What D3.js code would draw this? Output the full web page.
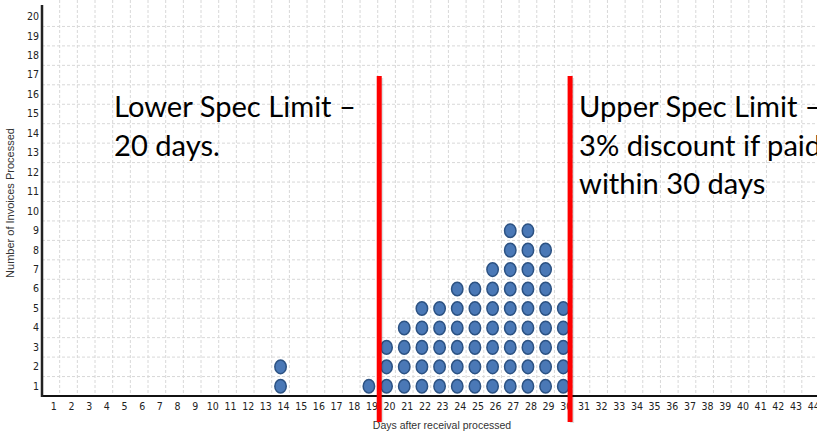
<!DOCTYPE html>
<html><head><meta charset="utf-8">
<script src="https://cdn.jsdelivr.net/npm/d3@7"></script>
<style>html,body{margin:0;padding:0;background:#fff;overflow:hidden}svg{display:block}</style>
</head><body>
<svg id="c" width="817" height="432"></svg>
<script>
// ---- data ----
const xDays = d3.range(1, 45);            // x-axis categories 1..44
const yCounts = d3.range(1, 21);          // y-axis categories 1..20
const dotDays = [14, 19, 20, 21, 22, 23, 24, 25, 26, 27, 28, 29, 30];
const dotCounts = [2, 1, 3, 4, 5, 5, 6, 6, 7, 9, 9, 8, 5];
const specDays = [20, 30];
const lowerLabel = ["Lower Spec Limit \u2013", "20 days."];
const upperLabel = ["Upper Spec Limit \u2013", "3% discount if paid", "within 30 days"];
const xTitle = "Days after receival processed";
const yTitle = "Number of Invoices Processed";

// ---- layout ----
const svg = d3.select("#c");
const mLeft = 42, mBottom = 396, mTop = 7, bw = 17.67;
const x = d3.scaleBand().domain(xDays).range([mLeft, mLeft + bw * xDays.length]).paddingInner(0).paddingOuter(0);
const y = d3.scaleBand().domain(yCounts).range([mBottom, mTop]).padding(0);
const tickFont = "Tahoma, 'DejaVu Sans Condensed', 'Liberation Sans', Arial, sans-serif";

// grid
const grid = svg.append("g").attr("stroke", "#d8d8d8").attr("stroke-dasharray", "3,2").attr("stroke-width", 1);
grid.selectAll(".vg").data(xDays).join("line")
  .attr("x1", d => x(d) + x.bandwidth()).attr("x2", d => x(d) + x.bandwidth())
  .attr("y1", 0).attr("y2", mBottom);
grid.selectAll(".hg").data(yCounts.slice(0, -1)).join("line")
  .attr("x1", mLeft).attr("x2", 817)
  .attr("y1", d => y(d)).attr("y2", d => y(d));

// axes
const xAxis = d3.axisBottom(x).tickSize(0).tickPadding(7);
const gx = svg.append("g").attr("transform", `translate(0,${mBottom})`).call(xAxis);
gx.select(".domain").remove();
gx.selectAll("text").attr("dx", 3).attr("font-family", tickFont).attr("font-size", 10.5).attr("fill", "#222");
svg.append("line").attr("x1", mLeft).attr("x2", 817).attr("y1", mBottom).attr("y2", mBottom)
  .attr("stroke", "#111").attr("stroke-width", 2);

const yAxis = d3.axisLeft(y).tickSize(0).tickPadding(3);
const gy = svg.append("g").attr("transform", `translate(${mLeft},0)`).call(yAxis);
gy.select(".domain").remove();
gy.selectAll("text").attr("font-family", tickFont).attr("font-size", 10.5).attr("fill", "#222");
svg.append("line").attr("x1", mLeft).attr("x2", mLeft).attr("y1", 5).attr("y2", mBottom + 1)
  .attr("stroke", "#222").attr("stroke-width", 2.5);

// titles
svg.append("text").attr("x", 442).attr("y", 429).attr("text-anchor", "middle")
  .attr("font-family", "Liberation Sans, Arial, sans-serif").attr("font-size", 10.5).attr("fill", "#333").text(xTitle);
svg.append("text").attr("transform", "translate(14,203) rotate(-90)").attr("text-anchor", "middle")
  .attr("font-family", "Liberation Sans, Arial, sans-serif").attr("font-size", 11).attr("fill", "#333").text(yTitle);

// dots
const dots = [];
dotDays.forEach((d, i) => { for (let k = 1; k <= dotCounts[i]; k++) dots.push({ day: d, n: k }); });
svg.append("g").selectAll("ellipse").data(dots).join("ellipse")
  .attr("cx", d => x(d.day) + x.bandwidth() / 2)
  .attr("cy", d => y(d.n) + y.bandwidth() / 2)
  .attr("rx", 5.7).attr("ry", 6.8)
  .attr("fill", "#4a78b6").attr("stroke", "#2c5283").attr("stroke-width", 1.5);

// spec lines
const specX = [x(specDays[0]) + 1.5, x(specDays[1]) + x.bandwidth() - 2];
const sg = svg.append("g");
sg.selectAll(".sh").data(specX).join("line")
  .attr("x1", d => d + 2).attr("x2", d => d + 2).attr("y1", 78).attr("y2", 423)
  .attr("stroke", "rgba(0,0,0,0.12)").attr("stroke-width", 4);
sg.selectAll(".sp").data(specX).join("line")
  .attr("x1", d => d).attr("x2", d => d).attr("y1", 76).attr("y2", 422)
  .attr("stroke", "#ff0000").attr("stroke-width", 5);

// annotation text
const font = "Lato, 'Open Sans', sans-serif";
function block(lines, x0, y0) {
  const g = svg.append("g");
  g.selectAll("text").data(lines).join("text")
    .attr("x", x0).attr("y", (d, i) => y0 + i * 38.5)
    .attr("font-family", font).attr("font-size", 27).attr("fill", "#000")
    .text(d => d);
  return g;
}
const gl = block(lowerLabel, 114, 117);
const gu = block(upperLabel, 579, 117);
// scale font so first line matches width of original
const w = gl.select("text").node().getComputedTextLength();
const fs = 27 * 242 / w;
gl.selectAll("text").attr("font-size", fs);
gu.selectAll("text").attr("font-size", fs);
</script>
</body></html>
